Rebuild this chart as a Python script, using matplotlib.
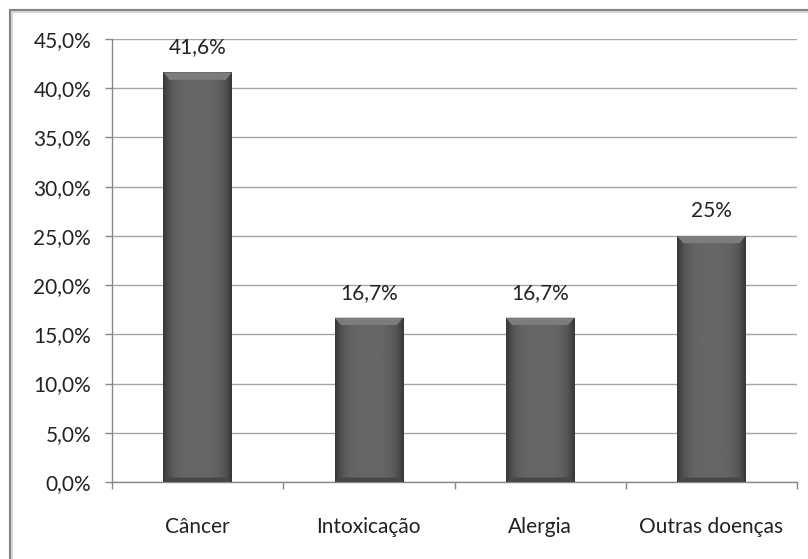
import numpy as np
import matplotlib.pyplot as plt
from matplotlib.patches import Rectangle, Polygon
from matplotlib import font_manager

# doencas associadas
categorias = ["Câncer", "Intoxicação", "Alergia", "Outras doenças"]
valores = [41.6, 16.7, 16.7, 25.0]
rotulos = ["41,6%", "16,7%", "16,7%", "25%"]
yticks = [0, 5, 10, 15, 20, 25, 30, 35, 40, 45]

nomes = {f.name for f in font_manager.fontManager.ttflist}
fonte = "Lato" if "Lato" in nomes else "DejaVu Sans"
plt.rcParams["font.family"] = [fonte, "DejaVu Sans"]
tam = 15
cor_txt = "#222222"

fig = plt.figure(figsize=(8.08, 5.59), dpi=100)
ax = fig.add_axes([112/808, 1-482/559, (797-112)/808, (482-39)/559])

# moldura do grafico
fig.patches.append(Rectangle((11/808, -0.5), 1.5, 0.5 + 1 - 11/559,
                             transform=fig.transFigure, fill=False,
                             edgecolor="#d8d8d8", lw=3, zorder=0))
fig.patches.append(Rectangle((10/808, -0.5), 1.5, 0.5 + 1 - 10/559,
                             transform=fig.transFigure, fill=False,
                             edgecolor="#858585", lw=1.5, zorder=1))

x = np.arange(len(categorias))
barras = ax.bar(x, valores, width=0.4, color="#575757", zorder=3)

# gradiente horizontal das barras (bordas escuras, centro mais claro)
grad = np.linspace(-1, 1, 64)
perfil = 0.22 + 0.18 * (1 - np.abs(grad) ** 4)
img = np.tile(perfil, (64, 1))
for b in barras:
    x0, w, h = b.get_x(), b.get_width(), b.get_height()
    im = ax.imshow(img, cmap="gray", vmin=0, vmax=1, aspect="auto",
                   extent=(x0, x0 + w, 0, h), zorder=4, interpolation="bicubic")
    im.set_clip_path(b)
    # chanfro no topo
    d = w * 0.09
    ax.add_patch(Polygon([(x0, h), (x0 + w, h), (x0 + w - d, h - 0.75), (x0 + d, h - 0.75)],
                         closed=True, facecolor="#7c7c7c", edgecolor="none", zorder=5))
    # faixa inferior
    ax.add_patch(Polygon([(x0, 0), (x0 + w, 0), (x0 + w - d, 0.45), (x0 + d, 0.45)],
                         closed=True, facecolor="#474747", edgecolor="none", zorder=5))

for xi, v, r in zip(x, valores, rotulos):
    ax.annotate(r, (xi, v), xytext=(0, 25), textcoords="offset pixels",
                ha="center", va="center", fontsize=tam, color=cor_txt)

ax.set_xlim(-0.5, len(categorias) - 0.5)
ax.set_ylim(0, 45)
ax.set_yticks(yticks)
ax.set_yticklabels([f"{t:.1f}%".replace(".", ",") for t in yticks])
ax.set_xticks(x)
ax.set_xticklabels(categorias)
ax.set_xticks(np.arange(len(categorias) + 1) - 0.5, minor=True)
ax.tick_params(axis="x", which="major", length=0, pad=25, labelsize=tam, labelcolor=cor_txt)
ax.tick_params(axis="x", which="minor", length=5, color="#888888", width=1, direction="out")
ax.tick_params(axis="y", length=5, color="#888888", width=1, labelsize=tam, labelcolor=cor_txt, pad=10)

ax.grid(axis="y", color="#a6a6a6", lw=1, zorder=0)
ax.set_axisbelow(True)
for s in ["top", "right"]:
    ax.spines[s].set_visible(False)
for s in ["left", "bottom"]:
    ax.spines[s].set_color("#888888")
    ax.spines[s].set_linewidth(1)

fig.savefig("out.png", dpi=100)
